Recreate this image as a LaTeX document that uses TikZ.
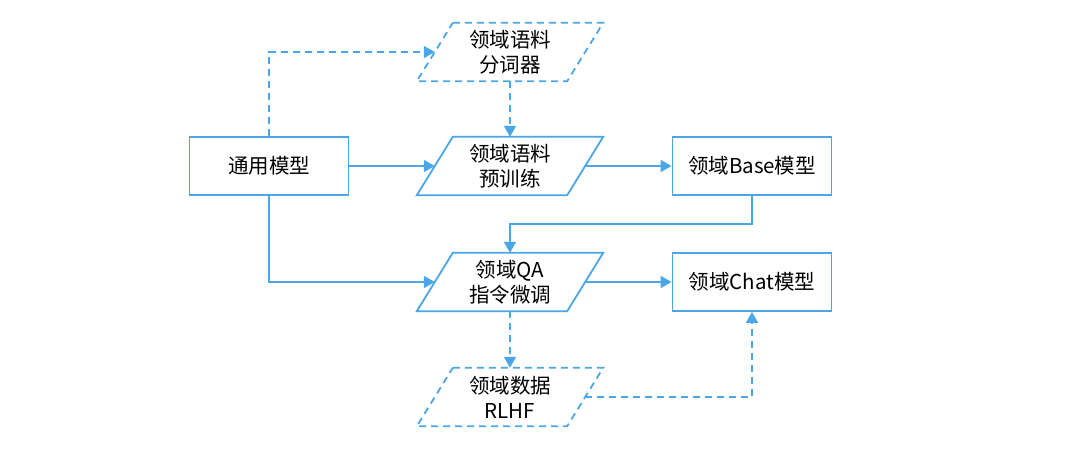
\documentclass[tikz,border=0pt]{standalone}
\usepackage{fontspec}
\setmainfont{Noto Sans CJK SC}
\usetikzlibrary{arrows.meta,calc}
\definecolor{lb}{HTML}{4BA6E8}
\newcommand\drawpara[2][]{%
  \draw[line,#1] ($(#2.north west)+(18,0)$) -- ($(#2.north east)+(18,0)$) -- ($(#2.south east)+(-18,0)$) -- ($(#2.south west)+(-18,0)$) -- cycle;}
\begin{document}
\begin{tikzpicture}[x=1pt,y=-1pt,
  line/.style={draw=lb,line width=1.8pt},
  arr/.style={line,-{Triangle[length=11pt,width=12pt]}},
  dsh/.style={dash pattern=on 7pt off 5pt},
  txt/.style={font=\fontsize{20.5}{25}\selectfont,text=black,align=center,inner sep=0pt},
  box/.style={txt,draw=lb,line width=1.8pt,minimum width=159pt,minimum height=58pt},
  pnode/.style={txt,minimum width=150pt,minimum height=58pt},
]
\useasboundingbox (0,0) rectangle (1080,449);
\node[box] (gen) at (269,166) {通用模型};
\node[pnode] (tok) at (510,52) {领域语料\\分词器};
\node[pnode] (pre) at (510,166) {领域语料\\预训练};
\node[box] (base) at (752,166) {领域Base模型};
\node[pnode] (qa) at (510,282) {领域QA\\指令微调};
\node[box] (chat) at (752,282) {领域Chat模型};
\node[pnode] (rl) at (510,397) {领域数据\\RLHF};
\drawpara[dsh]{tok}
\drawpara{pre}
\drawpara{qa}
\drawpara[dsh]{rl}
\draw[arr,dsh] (gen.north) |- (tok.west);
\draw[arr,dsh] (tok.south) -- (pre.north);
\draw[arr] (gen.east) -- (pre.west);
\draw[arr] (pre.east) -- (base.west);
\draw[arr] (base.south) |- ([yshift=29pt]qa.north) -- (qa.north);
\draw[arr] (gen.south) |- (qa.west);
\draw[arr] (qa.east) -- (chat.west);
\draw[arr,dsh] (qa.south) -- (rl.north);
\draw[arr,dsh] (rl.east) -| (chat.south);
\end{tikzpicture}
\end{document}
